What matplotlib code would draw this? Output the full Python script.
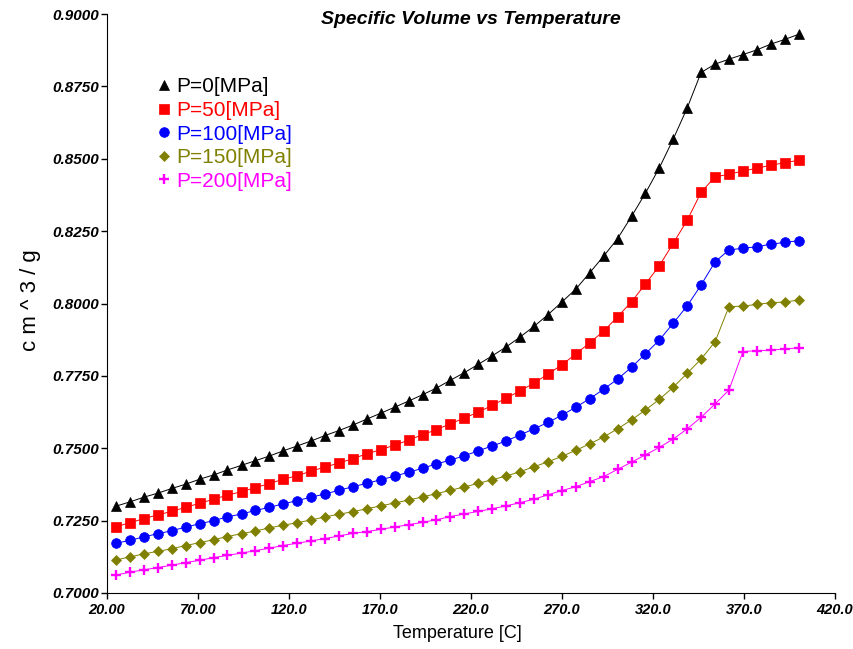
import matplotlib
matplotlib.use("Agg")
import matplotlib.pyplot as plt
from matplotlib.lines import Line2D

# temperature grid [C]
temps = [25.0, 32.7, 40.3, 48.0, 55.6, 63.3, 70.9, 78.6, 86.2, 93.9,
         101.5, 109.2, 116.8, 124.5, 132.1, 139.8, 147.4, 155.1, 162.8, 170.4,
         178.1, 185.7, 193.4, 201.0, 208.7, 216.3, 224.0, 231.6, 239.3, 246.9,
         254.6, 262.2, 269.9, 277.6, 285.2, 292.9, 300.5, 308.2, 315.8, 323.5,
         331.1, 338.8, 346.4, 354.1, 361.7, 369.4, 377.0, 384.7, 392.3, 400.0]

# specific volume [cm^3/g] per pressure
v_p0 = [0.7300, 0.7315, 0.7331, 0.7345, 0.7361, 0.7376, 0.7393, 0.7408, 0.7425, 0.7441,
        0.7457, 0.7473, 0.7491, 0.7508, 0.7525, 0.7544, 0.7561, 0.7580, 0.7601, 0.7621,
        0.7642, 0.7663, 0.7685, 0.7708, 0.7735, 0.7761, 0.7790, 0.7819, 0.7850, 0.7884,
        0.7921, 0.7961, 0.8005, 0.8050, 0.8106, 0.8164, 0.8224, 0.8301, 0.8381, 0.8469,
        0.8568, 0.8676, 0.8798, 0.8827, 0.8844, 0.8860, 0.8876, 0.8896, 0.8912, 0.8930]
v_p50 = [0.7229, 0.7243, 0.7257, 0.7270, 0.7282, 0.7296, 0.7310, 0.7324, 0.7338, 0.7350,
         0.7364, 0.7378, 0.7393, 0.7405, 0.7421, 0.7435, 0.7449, 0.7464, 0.7481, 0.7495,
         0.7511, 0.7528, 0.7547, 0.7564, 0.7585, 0.7604, 0.7625, 0.7648, 0.7673, 0.7698,
         0.7725, 0.7756, 0.7788, 0.7826, 0.7864, 0.7905, 0.7954, 0.8006, 0.8067, 0.8131,
         0.8208, 0.8288, 0.8384, 0.8438, 0.8446, 0.8458, 0.8467, 0.8478, 0.8486, 0.8495]
v_p100 = [0.7172, 0.7182, 0.7194, 0.7205, 0.7215, 0.7228, 0.7239, 0.7250, 0.7263, 0.7273,
          0.7285, 0.7296, 0.7308, 0.7319, 0.7331, 0.7342, 0.7355, 0.7367, 0.7379, 0.7391,
          0.7404, 0.7417, 0.7431, 0.7446, 0.7459, 0.7474, 0.7491, 0.7508, 0.7525, 0.7546,
          0.7567, 0.7589, 0.7614, 0.7642, 0.7671, 0.7704, 0.7739, 0.7780, 0.7826, 0.7874,
          0.7932, 0.7992, 0.8064, 0.8144, 0.8185, 0.8191, 0.8196, 0.8205, 0.8211, 0.8217]
v_p150 = [0.7114, 0.7125, 0.7135, 0.7144, 0.7153, 0.7164, 0.7174, 0.7184, 0.7195, 0.7205,
          0.7214, 0.7225, 0.7234, 0.7243, 0.7252, 0.7263, 0.7272, 0.7281, 0.7291, 0.7301,
          0.7311, 0.7321, 0.7332, 0.7343, 0.7355, 0.7366, 0.7379, 0.7391, 0.7404, 0.7419,
          0.7436, 0.7453, 0.7472, 0.7493, 0.7515, 0.7539, 0.7567, 0.7598, 0.7632, 0.7669,
          0.7711, 0.7759, 0.7808, 0.7868, 0.7989, 0.7991, 0.7997, 0.8003, 0.8005, 0.8012]
v_p200 = [0.7062, 0.7072, 0.7080, 0.7088, 0.7096, 0.7105, 0.7113, 0.7122, 0.7130, 0.7138,
          0.7146, 0.7155, 0.7164, 0.7172, 0.7180, 0.7188, 0.7197, 0.7206, 0.7212, 0.7220,
          0.7228, 0.7236, 0.7244, 0.7253, 0.7264, 0.7273, 0.7282, 0.7291, 0.7301, 0.7312,
          0.7324, 0.7339, 0.7354, 0.7367, 0.7385, 0.7402, 0.7427, 0.7452, 0.7477, 0.7503,
          0.7532, 0.7567, 0.7607, 0.7653, 0.7701, 0.7834, 0.7837, 0.7839, 0.7843, 0.7847]

labels = ["P=0[MPa]", "P=50[MPa]", "P=100[MPa]", "P=150[MPa]", "P=200[MPa]"]

x_ticks = [20, 70, 120, 170, 220, 270, 320, 370, 420]
x_ticklabels = ["20.00", "70.00", "120.0", "170.0", "220.0", "270.0", "320.0", "370.0", "420.0"]
y_ticks = [0.7, 0.725, 0.75, 0.775, 0.8, 0.825, 0.85, 0.875, 0.9]
y_ticklabels = ["0.7000", "0.7250", "0.7500", "0.7750", "0.8000",
                "0.8250", "0.8500", "0.8750", "0.9000"]

FONT = ["Liberation Sans", "DejaVu Sans"]

# marker, size, colour, edge width
styles = [
    ("^", 7.2, "#000000", 0.5),
    ("s", 7.0, "#ff0000", 0.5),
    ("o", 7.0, "#0000ff", 0.5),
    ("D", 5.0, "#808000", 0.5),
    ("+", 7.4, "#ff00ff", 1.7),
]

fig = plt.figure(figsize=(8.54, 6.49), dpi=100)
ax = fig.add_axes([0.1253, 0.0863, 0.8525, 0.8921])

handles = []
for vals, (mk, ms, col, mew) in zip([v_p0, v_p50, v_p100, v_p150, v_p200], styles):
    ax.plot(temps, vals, color=col, linewidth=0.7, marker=mk, markersize=ms,
            markerfacecolor=col, markeredgecolor=col, markeredgewidth=mew, clip_on=False)
    handles.append(Line2D([], [], linestyle="none", marker=mk, markersize=ms,
                          color=col, markeredgewidth=mew))

ax.set_xlim(20, 420)
ax.set_ylim(0.7, 0.9)
ax.set_xticks(x_ticks)
ax.set_xticklabels(x_ticklabels, family=FONT, fontsize=10.5, fontweight="bold", style="italic")
ax.set_yticks(y_ticks)
ax.set_yticklabels(y_ticklabels, family=FONT, fontsize=11, fontweight="bold", style="italic")
ax.tick_params(direction="out", length=4, width=1)
ax.tick_params(axis="y", pad=2)
ax.spines[["top", "right"]].set_visible(False)

ax.text(0.5, 0.99, "Specific Volume vs Temperature", transform=ax.transAxes,
        ha="center", va="center", family=FONT, fontsize=14, fontweight="bold", style="italic")
fig.text(457 / 854, 1 - 633 / 649, "Temperature [C]", ha="center", va="center",
         family=FONT, fontsize=13)
fig.text(31 / 854, 1 - 300 / 649, "c m ^ 3 / g", ha="center", va="center",
         rotation=90, family=FONT, fontsize=16)

leg = ax.legend(handles, labels, loc="upper left", bbox_to_anchor=(0.058, 0.905),
                frameon=False, handlelength=0.6, handletextpad=0.3, labelspacing=0.22,
                prop={"family": FONT, "size": 15}, borderaxespad=0)
for txt, (_, _, col, _) in zip(leg.get_texts(), styles):
    txt.set_color(col)

fig.savefig("out.png", dpi=100)
